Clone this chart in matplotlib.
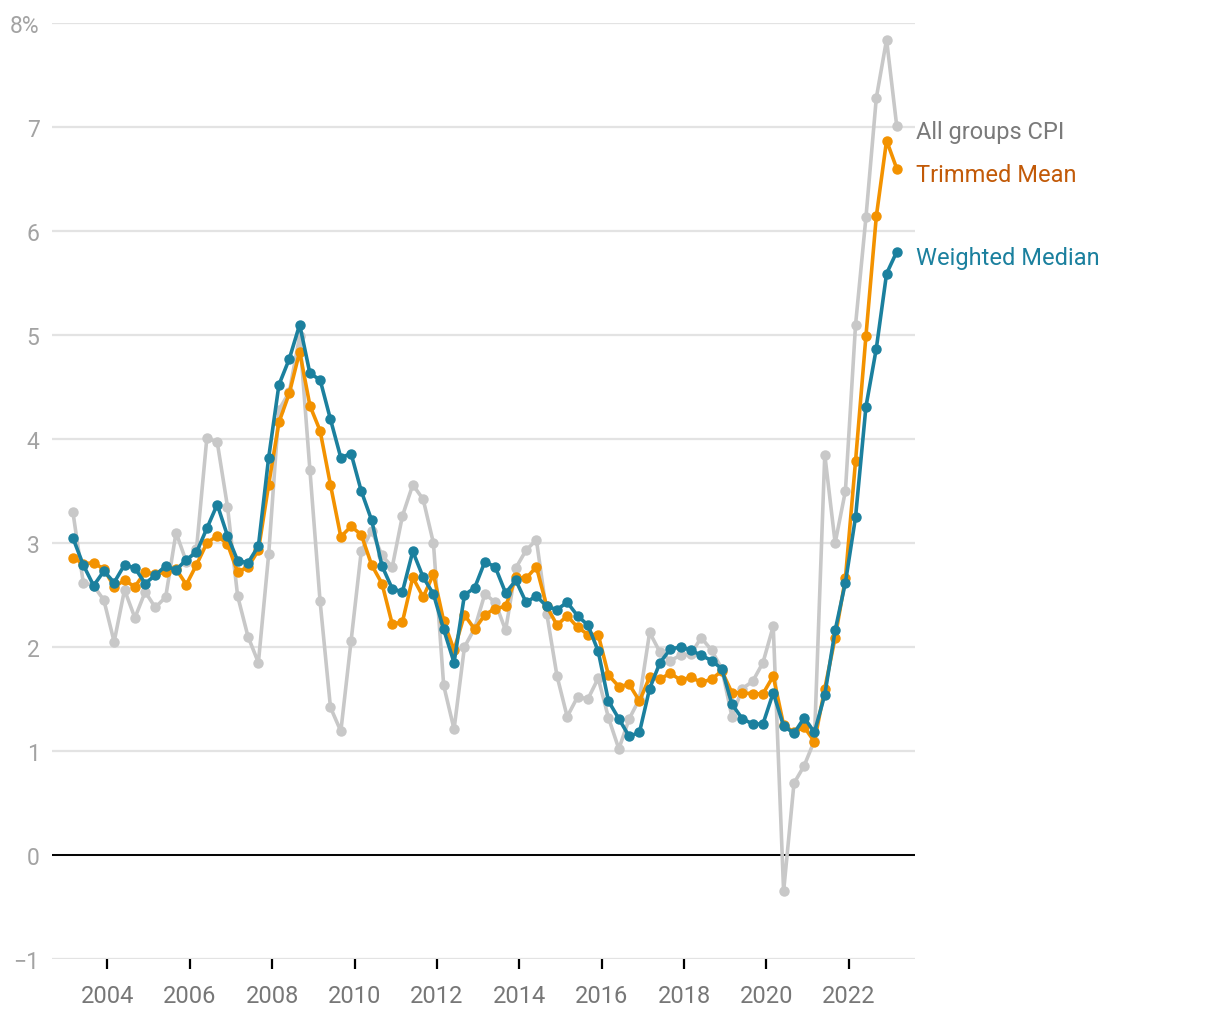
import pandas as pd
import matplotlib
matplotlib.use("Agg")
import matplotlib.pyplot as plt
import matplotlib.dates as mdates
import matplotlib.ticker as mticker
import matplotlib.transforms as mtrans

plt.rcParams['font.family'] = ['Roboto', 'DejaVu Sans']

# quarterly, year-ended inflation, Mar 2003 .. Mar 2023
dates = pd.date_range("2003-03-01", "2023-03-01", freq="QS-MAR")

cpi = [3.30, 2.62, 2.59, 2.45, 2.05, 2.55, 2.28, 2.53, 2.38, 2.48,
       3.10, 2.82, 2.94, 4.01, 3.97, 3.35, 2.49, 2.10, 1.85, 2.89,
       4.28, 4.45, 4.99, 3.70, 2.44, 1.42, 1.19, 2.06, 2.92, 3.12,
       2.88, 2.77, 3.26, 3.56, 3.42, 3.00, 1.63, 1.21, 2.00, 2.18,
       2.51, 2.43, 2.16, 2.76, 2.93, 3.03, 2.32, 1.72, 1.33, 1.52,
       1.50, 1.70, 1.32, 1.02, 1.31, 1.50, 2.14, 1.95, 1.87, 1.92,
       1.93, 2.09, 1.97, 1.79, 1.33, 1.60, 1.67, 1.85, 2.20, -0.35,
       0.69, 0.86, 1.10, 3.85, 3.00, 3.50, 5.10, 6.13, 7.28, 7.84,
       7.01]

trimmed = [2.86, 2.80, 2.81, 2.75, 2.58, 2.64, 2.58, 2.72, 2.70, 2.72,
           2.75, 2.60, 2.79, 3.00, 3.07, 2.99, 2.72, 2.77, 2.93, 3.56,
           4.16, 4.44, 4.84, 4.32, 4.08, 3.56, 3.06, 3.16, 3.08, 2.79,
           2.61, 2.22, 2.24, 2.67, 2.48, 2.70, 2.25, 1.97, 2.31, 2.17,
           2.31, 2.37, 2.39, 2.67, 2.66, 2.77, 2.39, 2.21, 2.30, 2.19,
           2.12, 2.12, 1.73, 1.62, 1.64, 1.48, 1.71, 1.69, 1.75, 1.68,
           1.71, 1.66, 1.69, 1.77, 1.56, 1.56, 1.55, 1.55, 1.72, 1.25,
           1.18, 1.23, 1.09, 1.60, 2.09, 2.66, 3.79, 4.99, 6.14, 6.87,
           6.60]

weighted = [3.05, 2.79, 2.59, 2.73, 2.62, 2.79, 2.76, 2.61, 2.69, 2.78,
            2.74, 2.84, 2.91, 3.14, 3.37, 3.07, 2.83, 2.81, 2.97, 3.82,
            4.52, 4.77, 5.10, 4.63, 4.57, 4.19, 3.82, 3.86, 3.50, 3.22,
            2.78, 2.56, 2.53, 2.92, 2.67, 2.51, 2.17, 1.85, 2.50, 2.57,
            2.82, 2.77, 2.52, 2.64, 2.43, 2.49, 2.39, 2.36, 2.43, 2.30,
            2.21, 1.96, 1.48, 1.31, 1.14, 1.18, 1.60, 1.85, 1.98, 2.00,
            1.97, 1.92, 1.87, 1.79, 1.45, 1.31, 1.26, 1.26, 1.56, 1.24,
            1.17, 1.32, 1.18, 1.54, 2.16, 2.62, 3.25, 4.31, 4.87, 5.59,
            5.80]

series = [
    ("All groups CPI", cpi, "#c8c8c8", "#7a7a7a"),
    ("Trimmed Mean", trimmed, "#f39200", "#c25a08"),
    ("Weighted Median", weighted, "#1b809e", "#1b809e"),
]

fig = plt.figure(figsize=(12.2, 10.2), dpi=100)
ax = fig.add_axes([52 / 1220, 60 / 1020, (915 - 52) / 1220, (960 - 24) / 1020])

for name, vals, col, txtcol in series:
    ax.plot(dates, vals, color=col, lw=2.6, marker="o", ms=6.5,
            solid_joinstyle="round", zorder=3)

# labels at the end of each line (nudged a little down, like the original)
trans = mtrans.blended_transform_factory(ax.transAxes, ax.transData)
trans = trans + mtrans.ScaledTranslation(0, -5.5 / 100, fig.dpi_scale_trans)
for name, vals, col, txtcol in series:
    ax.text(1.001, vals[-1], name, transform=trans, color=txtcol,
            fontsize=17, va="center", ha="left")

ax.set_ylim(-1, 8)
ax.set_xlim(pd.Timestamp("2002-08-28"), pd.Timestamp("2023-08-10"))
ax.set_yticks(range(-1, 9))
ax.yaxis.set_major_formatter(mticker.FuncFormatter(
    lambda v, p: "8%" if v == 8 else ("\u2212%d" % -v if v < 0 else "%d" % v)))
ax.grid(axis="y", color="#e3e3e3", lw=1.6, zorder=0)
ax.axhline(0, color="black", lw=1.4, zorder=2)

ax.xaxis.set_major_formatter(mdates.DateFormatter("%Y"))
ax.set_xticks([pd.Timestamp(f"{y}-01-01") for y in range(2004, 2023, 2)])

for s in ax.spines.values():
    s.set_visible(False)

ax.tick_params(axis="y", length=0, pad=9, labelsize=16.5, labelcolor="#a3a3a3")
ax.tick_params(axis="x", length=7, width=1.6, color="black", pad=11,
               labelsize=17, labelcolor="#777777")

fig.savefig("out.png", dpi=100)
